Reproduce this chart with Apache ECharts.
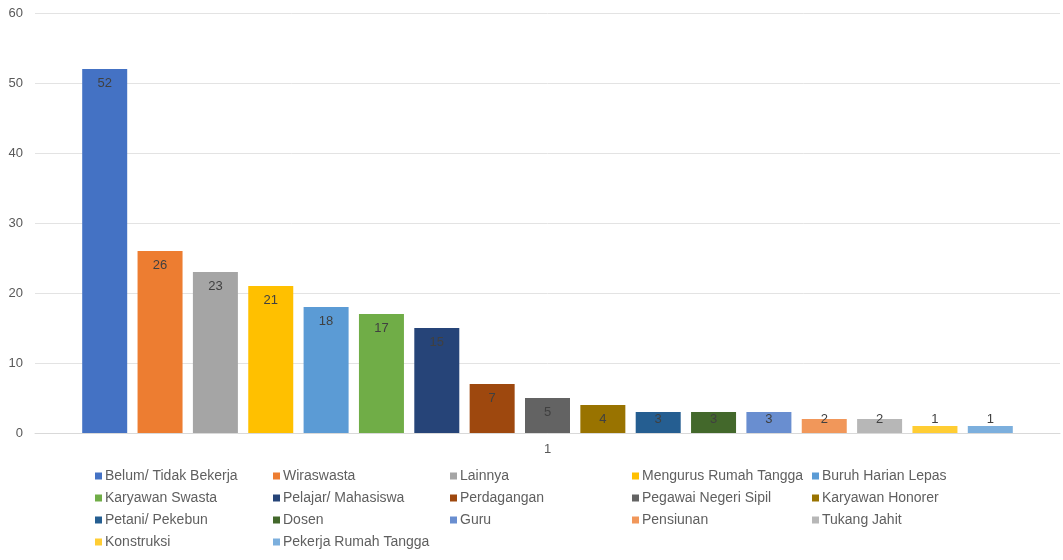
<!DOCTYPE html>
<html>
<head>
<meta charset="utf-8">
<script src="https://cdn.jsdelivr.net/npm/echarts@6/dist/echarts.min.js"></script>
<style>
html,body{margin:0;padding:0;background:#fff;}
#chart{width:1063px;height:560px;}
</style>
</head>
<body>
<div id="chart"></div>
<script>
var categories = ['1'];
var seriesNames = [
  'Belum/ Tidak Bekerja', 'Wiraswasta', 'Lainnya', 'Mengurus Rumah Tangga', 'Buruh Harian Lepas',
  'Karyawan Swasta', 'Pelajar/ Mahasiswa', 'Perdagangan', 'Pegawai Negeri Sipil', 'Karyawan Honorer',
  'Petani/ Pekebun', 'Dosen', 'Guru', 'Pensiunan', 'Tukang Jahit',
  'Konstruksi', 'Pekerja Rumah Tangga'
];
var seriesValues = [52, 26, 23, 21, 18, 17, 15, 7, 5, 4, 3, 3, 3, 2, 2, 1, 1];
var seriesColors = [
  '#4472C4', '#ED7D31', '#A5A5A5', '#FFC000', '#5B9BD5',
  '#70AD47', '#264478', '#9E480E', '#636363', '#997300',
  '#255E91', '#43682B', '#698ED0', '#F1975A', '#B7B7B7',
  '#FFCD33', '#7CAFDD'
];
var yTicks = {min: 0, max: 60, interval: 10};

var FONT = '"Liberation Sans", Arial, sans-serif';
var series = seriesNames.map(function (name, i) {
  var v = seriesValues[i];
  var small = v < 5;
  return {
    name: name,
    type: 'bar',
    data: [v],
    barWidth: 45,
    barGap: '23%',
    itemStyle: {color: seriesColors[i]},
    label: {
      show: true,
      position: small ? 'insideBottom' : 'insideTop',
      distance: small ? 7 : 8,
      color: '#404040',
      fontSize: 13,
      fontFamily: FONT
    }
  };
});

// legend in 5 columns, row-major order like the reference
var colLeft = [95, 273, 450, 632, 812];
var legends = colLeft.map(function (x, c) {
  var items = [];
  for (var k = c; k < seriesNames.length; k += 5) items.push(seriesNames[k]);
  return {
    orient: 'vertical',
    left: x,
    top: 468,
    data: items,
    icon: 'rect',
    itemWidth: 7,
    itemHeight: 7,
    itemGap: 6,
    padding: 0,
    selectedMode: false,
    textStyle: {color: '#5f5f5f', fontSize: 14, fontFamily: FONT, lineHeight: 16, padding: [0, 0, 0, -2]}
  };
});

var chart = echarts.init(document.getElementById('chart'), null, {renderer: 'canvas'});
chart.setOption({
  animation: false,
  backgroundColor: '#fff',
  grid: {left: 35, right: 3, top: 13, bottom: 127, containLabel: false},
  xAxis: {
    type: 'category',
    data: categories,
    axisLine: {lineStyle: {color: '#d9d9d9'}},
    axisTick: {show: false},
    axisLabel: {color: '#595959', fontSize: 13, fontFamily: FONT, margin: 10}
  },
  yAxis: {
    type: 'value',
    min: yTicks.min,
    max: yTicks.max,
    interval: yTicks.interval,
    axisLine: {show: false},
    axisTick: {show: false},
    splitLine: {lineStyle: {color: '#e3e3e3'}},
    axisLabel: {color: '#595959', fontSize: 13, fontFamily: FONT, margin: 12}
  },
  legend: legends,
  series: series
});
</script>
</body>
</html>
